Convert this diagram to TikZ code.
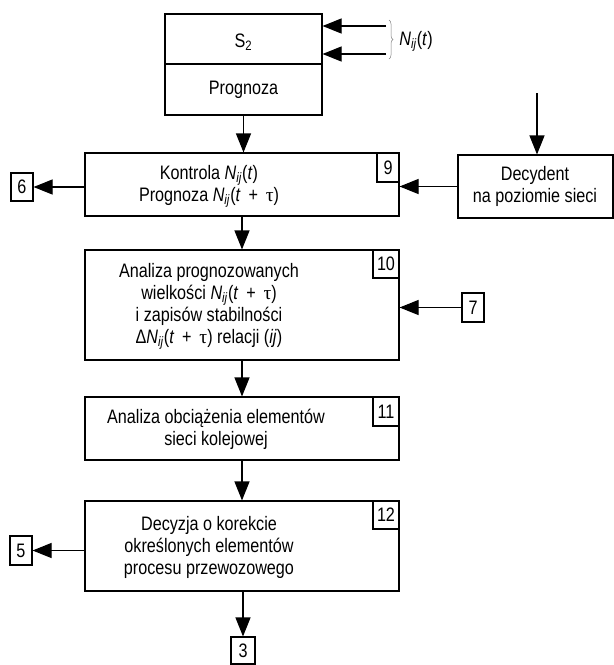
\documentclass[tikz,border=0pt]{standalone}
\usepackage{fontspec}
\setmainfont{Liberation Sans}[FakeStretch=0.83]
\newfontfamily\taufont{Liberation Serif}
\usetikzlibrary{arrows.meta,decorations.pathreplacing}
\newcommand{\Nij}{\textit{N}\textsubscript{\textit{ij}}}
\newcommand{\tauch}{{\taufont τ}}
\newcommand{\tpt}{\textit{t}\hspace{0.4em}+\hspace{0.4em}\tauch}
\tikzset{
  txt/.style={font=\fontsize{19.5}{22}\selectfont, align=center, inner sep=0pt},
  boxbase/.style={draw, line width=1.1pt, inner sep=0pt},
  mainbox/.style={boxbase, minimum width=314pt},
  numbox/.style={boxbase, txt, minimum height=29pt},
  arr/.style={line width=1.1pt, -{Triangle[length=19pt,width=15pt]}},
}
\begin{document}
\begin{tikzpicture}[x=1pt,y=-1pt]
\useasboundingbox (0,0) rectangle (614,665);
% top block
\node[boxbase, minimum width=157pt, minimum height=50pt] (s2) at (243.5,39) {};
\node[boxbase, minimum width=157pt, minimum height=51pt] (prog) at (243.5,89.5) {};
\node[txt] (s2t) at (243.5,42) {S\textsubscript{2}};
\node[txt] (progt) at (243.5,90) {Prognoza};
\coordinate (in1) at (386,26);
\coordinate (in2) at (386,54);
\draw[arr] (in1) -- (in1 -| s2.east);
\draw[arr] (in2) -- (in2 -| s2.east);
\draw[decorate, decoration={brace, amplitude=4pt}, gray, line width=0.5pt] (389,20) -- (389,59);
\node[txt] (nijlab) at (416,41) {\Nij(\textit{t})};
% box 9
\node[mainbox, minimum height=63pt] (b9) at (242,184.5) {};
\node[txt] (b9t) at (209,186) {Kontrola \Nij(\textit{t})\\Prognoza \Nij(\tpt)};
\node[numbox, minimum width=22pt, anchor=north east] (l9) at (b9.north east) {9};
\node[numbox, minimum width=22pt, minimum height=28pt] (b6) at (22,187) {6};
\node[boxbase, minimum width=155pt, minimum height=63pt] (dec) at (535.5,186.5) {};
\node[txt] (dect) at (535,186) {Decydent\\na poziomie sieci};
\coordinate (decin) at (537,93);
% box 10
\node[mainbox, minimum height=110pt] (b10) at (242,305) {};
\node[txt] (b10t) at (209,306) {Analiza prognozowanych\\wielkości \Nij(\tpt)\\i zapisów stabilności\\Δ\Nij(\tpt) relacji (\textit{ij})};
\node[numbox, minimum width=26pt, minimum height=28pt, anchor=north east] (l10) at (b10.north east) {10};
\node[numbox, minimum width=22pt] (b7) at (473,307.5) {7};
% box 11
\node[mainbox, minimum height=63pt] (b11) at (242,428.5) {};
\node[txt] (b11t) at (216,429) {Analiza obciążenia elementów\\sieci kolejowej};
\node[numbox, minimum width=26pt, anchor=north east] (l11) at (b11.north east) {11};
% box 12
\node[mainbox, minimum height=90pt] (b12) at (242,546) {};
\node[txt] (b12t) at (209,547) {Decyzja o korekcie\\określonych elementów\\procesu przewozowego};
\node[numbox, minimum width=26pt, minimum height=28pt, anchor=north east] (l12) at (b12.north east) {12};
\node[numbox, minimum width=22pt] (b5) at (21,550.5) {5};
\node[numbox, minimum width=24pt, minimum height=27pt] (b3) at (243,650.5) {3};
% connectors
\draw[arr] (prog.south) -- (prog.south |- b9.north);
\draw[arr] (b6.east -| b9.west) -- (b6.east);
\draw[arr] (dec.west) -- (dec.west -| b9.east);
\draw[arr] (decin) -- (decin |- dec.north);
\draw[arr] (b9.south) -- (b10.north);
\draw[arr] (b7.west) -- (b7.west -| b10.east);
\draw[arr] (b10.south) -- (b11.north);
\draw[arr] (b11.south) -- (b12.north);
\draw[arr] (b5.east -| b12.west) -- (b5.east);
\draw[arr] (b12.south -| b3.north) -- (b3.north);
\end{tikzpicture}
\end{document}
